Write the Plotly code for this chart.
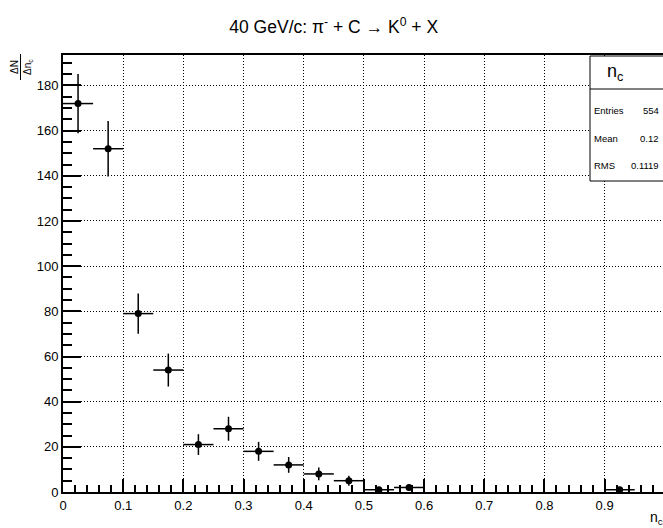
import plotly.graph_objects as go

# ---- data ----
bin_centers = [0.025, 0.075, 0.125, 0.175, 0.225, 0.275, 0.325, 0.375, 0.425, 0.475, 0.525, 0.575, 0.925]
counts = [172, 152, 79, 54, 21, 28, 18, 12, 8, 5, 1, 2, 1]
errors = [13.1, 12.3, 8.9, 7.3, 4.6, 5.3, 4.2, 3.5, 2.8, 2.2, 1.0, 1.4, 1.0]
bin_half_width = 0.025
stat_labels = ["Entries", "Mean", "RMS"]
stat_values = ["554", "0.12", "0.1119"]
x_major = [0, 0.1, 0.2, 0.3, 0.4, 0.5, 0.6, 0.7, 0.8, 0.9]
y_major = [0, 20, 40, 60, 80, 100, 120, 140, 160, 180]
x_minor_per_major = 5
y_minor_per_major = 4

W, H = 663, 528
L, R, T, B = 63, 0, 55, 36
PW, PH = W - L - R, H - T - B
FONT = "Liberation Sans, Arial, sans-serif"
X_RANGE = [0, 0.997]
Y_RANGE = [0, 193.5]


def px(x):
    return (x - L) / PW


def py(y):
    return (H - B - y) / PH


fig = go.Figure()
fig.add_trace(go.Scatter(
    x=bin_centers, y=counts, mode="markers",
    marker=dict(color="black", size=7),
    error_y=dict(type="data", array=errors, visible=True, color="black", thickness=1.5, width=0),
    error_x=dict(type="constant", value=bin_half_width, visible=True, color="black", thickness=1.5, width=0),
    showlegend=False, cliponaxis=True,
))

shapes = [
    # stats box
    dict(type="rect", xref="paper", yref="paper", x0=px(590), x1=px(665), y0=py(181), y1=py(56),
         line=dict(color="black", width=1), fillcolor="white", layer="above"),
    dict(type="line", xref="paper", yref="paper", x0=px(590), x1=px(665), y0=py(89), y1=py(89),
         line=dict(color="black", width=1), layer="above"),
    # fraction bar of the y title
    dict(type="line", xref="paper", yref="paper", x0=px(20.5), x1=px(20.5), y0=py(80), y1=py(54),
         line=dict(color="black", width=1)),
]

annotations = [
    dict(xref="paper", yref="paper", x=px(615), y=py(72), text="n<sub>c</sub>", showarrow=False,
         font=dict(family=FONT, size=18, color="black"), xanchor="center", yanchor="middle"),
    dict(xref="paper", yref="paper", x=px(14), y=py(67), text="ΔN", showarrow=False, textangle=-90,
         font=dict(family=FONT, size=10, color="black"), xanchor="center", yanchor="middle"),
    dict(xref="paper", yref="paper", x=px(28), y=py(67), text="Δn<sub>c</sub>", showarrow=False, textangle=-90,
         font=dict(family=FONT, size=10, color="black"), xanchor="center", yanchor="middle"),
    dict(xref="paper", yref="paper", x=px(648), y=py(518), text="n<sub>c</sub>", showarrow=False,
         font=dict(family=FONT, size=14, color="black"), xanchor="left", yanchor="middle"),
]
row_y = [110, 138, 165]
for lab, val, yy in zip(stat_labels, stat_values, row_y):
    annotations.append(dict(xref="paper", yref="paper", x=px(592), y=py(yy), text=lab, showarrow=False,
                            font=dict(family=FONT, size=9.5, color="black"), xanchor="left", yanchor="middle"))
    annotations.append(dict(xref="paper", yref="paper", x=px(661), y=py(yy), text=val, showarrow=False,
                            font=dict(family=FONT, size=9.5, color="black"), xanchor="right", yanchor="middle"))

x_step = (x_major[1] - x_major[0]) / x_minor_per_major
y_step = (y_major[1] - y_major[0]) / y_minor_per_major

fig.update_layout(
    width=W, height=H,
    margin=dict(l=L, r=R, t=T, b=B),
    paper_bgcolor="white", plot_bgcolor="white",
    font=dict(family=FONT, color="black"),
    title=dict(text="40 GeV/c: π<sup>-</sup> + C → K<sup>0</sup> + X", x=px(365), xanchor="center",
               y=1 - 27 / H, yanchor="middle", font=dict(family=FONT, size=17.5, color="black")),
    shapes=shapes, annotations=annotations,
    xaxis=dict(
        range=X_RANGE, tickmode="array", tickvals=x_major, ticktext=[f"{v:g}" for v in x_major],
        ticks="inside", ticklen=13, tickwidth=2, tickcolor="#000000",
        minor=dict(ticks="inside", tickmode="linear", tick0=0, dtick=x_step, ticklen=7,
                   tickwidth=2, tickcolor="#000000", showgrid=False),
        showline=True, linecolor="black", linewidth=2, mirror=True, layer="above traces",
        showgrid=True, gridcolor="black", gridwidth=1, griddash="1px,2px",
        zeroline=False, tickfont=dict(family=FONT, size=13, color="black"),
    ),
    yaxis=dict(
        range=Y_RANGE, tickmode="array", tickvals=y_major, ticktext=[str(v) for v in y_major],
        ticks="inside", ticklen=18, tickwidth=2, tickcolor="#000000",
        minor=dict(ticks="inside", tickmode="linear", tick0=0, dtick=y_step, ticklen=9,
                   tickwidth=2, tickcolor="#000000", showgrid=False),
        showline=True, linecolor="black", linewidth=2, mirror=False, layer="above traces",
        showgrid=True, gridcolor="black", gridwidth=1, griddash="1px,2px",
        zeroline=False, tickfont=dict(family=FONT, size=13, color="black"),
    ),
)

fig.write_html("out.html")
